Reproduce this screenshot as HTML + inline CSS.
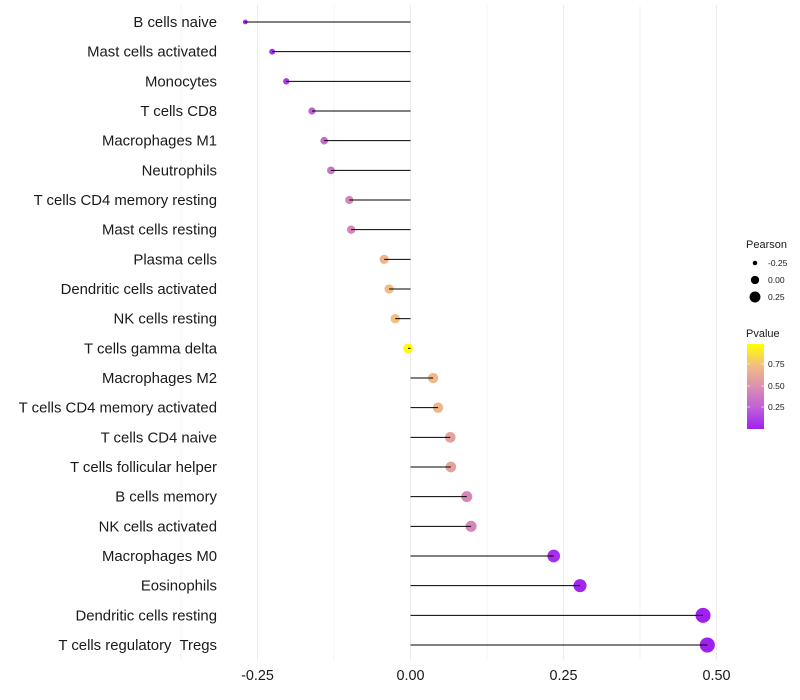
<!DOCTYPE html>
<html><head><meta charset="utf-8"><style>
body{margin:0;background:#fff;}
svg{display:block;font-family:"Liberation Sans",sans-serif;}
text{white-space:pre;}
</style></head><body>
<svg id="chart" width="800" height="700"></svg>
<script>
const categories=["B cells naive","Mast cells activated","Monocytes","T cells CD8","Macrophages M1","Neutrophils","T cells CD4 memory resting","Mast cells resting","Plasma cells","Dendritic cells activated","NK cells resting","T cells gamma delta","Macrophages M2","T cells CD4 memory activated","T cells CD4 naive","T cells follicular helper","B cells memory","NK cells activated","Macrophages M0","Eosinophils","Dendritic cells resting","T cells regulatory  Tregs"];
const pearson=[-0.270,-0.226,-0.203,-0.161,-0.141,-0.130,-0.100,-0.097,-0.043,-0.035,-0.025,-0.004,0.037,0.045,0.065,0.066,0.092,0.099,0.234,0.277,0.478,0.485];
const pvalue=[0.02,0.05,0.1,0.25,0.3,0.35,0.45,0.45,0.7,0.73,0.75,0.98,0.72,0.7,0.6,0.6,0.45,0.45,0.05,0.02,0.001,0.001];
const xTicks=[-0.25,0,0.25,0.5];
const xTickLabels=["-0.25","0.00","0.25","0.50"];
const NS="http://www.w3.org/2000/svg";
const svg=document.getElementById('chart');
const x=v=>410.5+v*612;
const y=i=>22+i*(623/21);
const r=v=>Math.sqrt(Math.max(3,24+68*v));
const stops=[[0,[160,32,240]],[0.25,[192,96,216]],[0.5,[220,143,176]],[0.75,[242,191,128]],[1,[255,255,0]]];
function col(p){for(let k=1;k<stops.length;k++){if(p<=stops[k][0]){const a=stops[k-1],b=stops[k];const t=(p-a[0])/(b[0]-a[0]);return 'rgb('+a[1].map((c,j)=>Math.round(c+(b[1][j]-c)*t)).join(',')+')';}}return 'rgb(255,255,0)';}
function el(tag,attrs,parent){const e=document.createElementNS(NS,tag);for(const k in attrs)e.setAttribute(k,attrs[k]);(parent||svg).appendChild(e);return e;}
[-0.375,-0.125,0.125,0.375].concat(xTicks).forEach(v=>{
const g=el('line',{x1:x(v),x2:x(v),y1:5,y2:660,stroke:'#ebebeb','stroke-width':xTicks.includes(v)?1:0.6});


});
xTicks.forEach((v,i)=>{
const t=el('text',{x:x(v),y:680,'text-anchor':'middle','font-size':14.4,fill:'#1a1a1a'});t.textContent=xTickLabels[i];


});
categories.forEach((c,i)=>{
const t=el('text',{x:217,y:y(i)+5,'text-anchor':'end','font-size':14.9,fill:'#1a1a1a'});t.textContent=c;


const d=el('circle',{cx:x(pearson[i]),cy:y(i),r:r(pearson[i]),fill:col(pvalue[i])});


const l=el('line',{x1:x(0),x2:x(pearson[i]),y1:y(i),y2:y(i),stroke:'#000','stroke-width':1});


});
const lg=el('g',{});


let t=el('text',{x:746,y:248,'font-size':11,fill:'#1a1a1a'},lg);t.textContent='Pearson';
[-0.25,0,0.25].forEach((v,i)=>{
const c=el('circle',{cx:755,cy:263+i*17,r:r(v)*0.85,fill:'#000'},lg);


const tt=el('text',{x:768,y:266+i*17,'font-size':8.5,fill:'#1a1a1a'},lg);tt.textContent=["-0.25","0.00","0.25"][i];
});
t=el('text',{x:746,y:337,'font-size':11,fill:'#1a1a1a'},lg);t.textContent='Pvalue';
const defs=el('defs',{});
const gr=el('linearGradient',{id:'pg',x1:0,y1:1,x2:0,y2:0},defs);
stops.forEach(s=>el('stop',{offset:s[0],'stop-color':col(s[0])},gr));
const bar=el('rect',{x:747,y:344,width:17,height:85,fill:'url(#pg)'},lg);


[[0.75,364],[0.5,386],[0.25,407]].forEach(a=>{
el('line',{x1:747,x2:750,y1:a[1],y2:a[1],stroke:'#fff','stroke-width':0.6},lg);
el('line',{x1:761,x2:764,y1:a[1],y2:a[1],stroke:'#fff','stroke-width':0.6},lg);
const tt=el('text',{x:768,y:a[1]+3,'font-size':8.5,fill:'#1a1a1a'},lg);tt.textContent=a[0].toFixed(2);
});
</script>
</body></html>
